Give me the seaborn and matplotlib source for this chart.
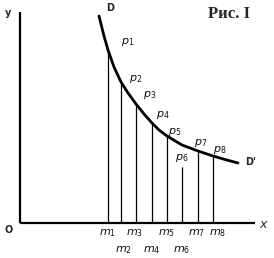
import matplotlib
matplotlib.use("Agg")
import matplotlib.pyplot as plt
import seaborn as sns
import pandas as pd

sns.set_theme(style="white")
plt.rcParams['font.family'] = ['DejaVu Sans']
plt.rcParams['mathtext.fontset'] = 'dejavusans'

# Demand curve D-D'
curve_x = [79, 84, 88, 94, 101, 108, 116, 124, 132, 139, 147, 162, 178, 193, 205, 218]
curve_y = [207, 187, 173, 156, 141, 130, 119, 109, 100, 93, 87, 78, 72, 67, 63.5, 60]

# Points m1..m8 on the x axis and heights of verticals
m_x = [88, 101, 116, 132, 147, 162, 178, 193]
m_h = [173, 141, 119, 100, 87, 56, 72, 67]
m_labels = [r'$m_1$', r'$m_2$', r'$m_3$', r'$m_4$', r'$m_5$', r'$m_6$', r'$m_7$', r'$m_8$']
p_labels = [r'$p_1$', r'$p_2$', r'$p_3$', r'$p_4$', r'$p_5$', r'$p_6$', r'$p_7$', r'$p_8$']

fig = plt.figure(figsize=(2.74, 2.58), dpi=100)
ax = fig.add_axes([0, 0, 1, 1])
ax.set_xlim(-20, 254)
ax.set_ylim(-35, 223)
ax.axis('off')

# axes
ax.plot([0, 0], [0, 211], color='black', lw=1.6, solid_capstyle='butt')
ax.plot([0, 235], [0, 0], color='black', lw=1.6, solid_capstyle='butt')

# vertical lines
ax.vlines(m_x, 0, m_h, color='black', lw=0.9)

# curve
df = pd.DataFrame({'x': curve_x, 'y': curve_y})
sns.lineplot(data=df, x='x', y='y', ax=ax, color='black', lw=2.0, sort=False)

# p labels
p_pos = [(108, 181), (116, 144), (130, 128), (143, 108), (155, 91), (162, 65), (181, 80), (200, 73)]
for (px, py), lab in zip(p_pos, p_labels):
    ax.text(px, py, lab, fontsize=8, ha='center', va='center', color='#111111')

# m labels
m_pos_y = [-10, -27, -10, -27, -10, -27, -10, -10]
m_pos_x = [88, 103, 115, 132, 147, 162, 177, 198]
for mx, my, lab in zip(m_pos_x, m_pos_y, m_labels):
    ax.text(mx, my, lab, fontsize=8, ha='center', va='center', color='#111111')

ax.text(-12, 210, 'y', fontsize=7, ha='center', va='center', fontweight='bold')
ax.text(244, -2, r'$x$', fontsize=9, ha='center', va='center')
ax.text(-11, -7, 'O', fontsize=7, ha='center', va='center', fontweight='bold')
ax.text(90, 215, 'D', fontsize=7, ha='center', va='center', fontweight='bold')
ax.text(231, 61, "D'", fontsize=7, ha='center', va='center', fontweight='bold')
ax.text(209, 209, 'Рис. I', fontsize=12, ha='center', va='center', fontweight='bold',
        family=['Liberation Serif', 'DejaVu Serif'])

fig.savefig('out.png', dpi=100)
